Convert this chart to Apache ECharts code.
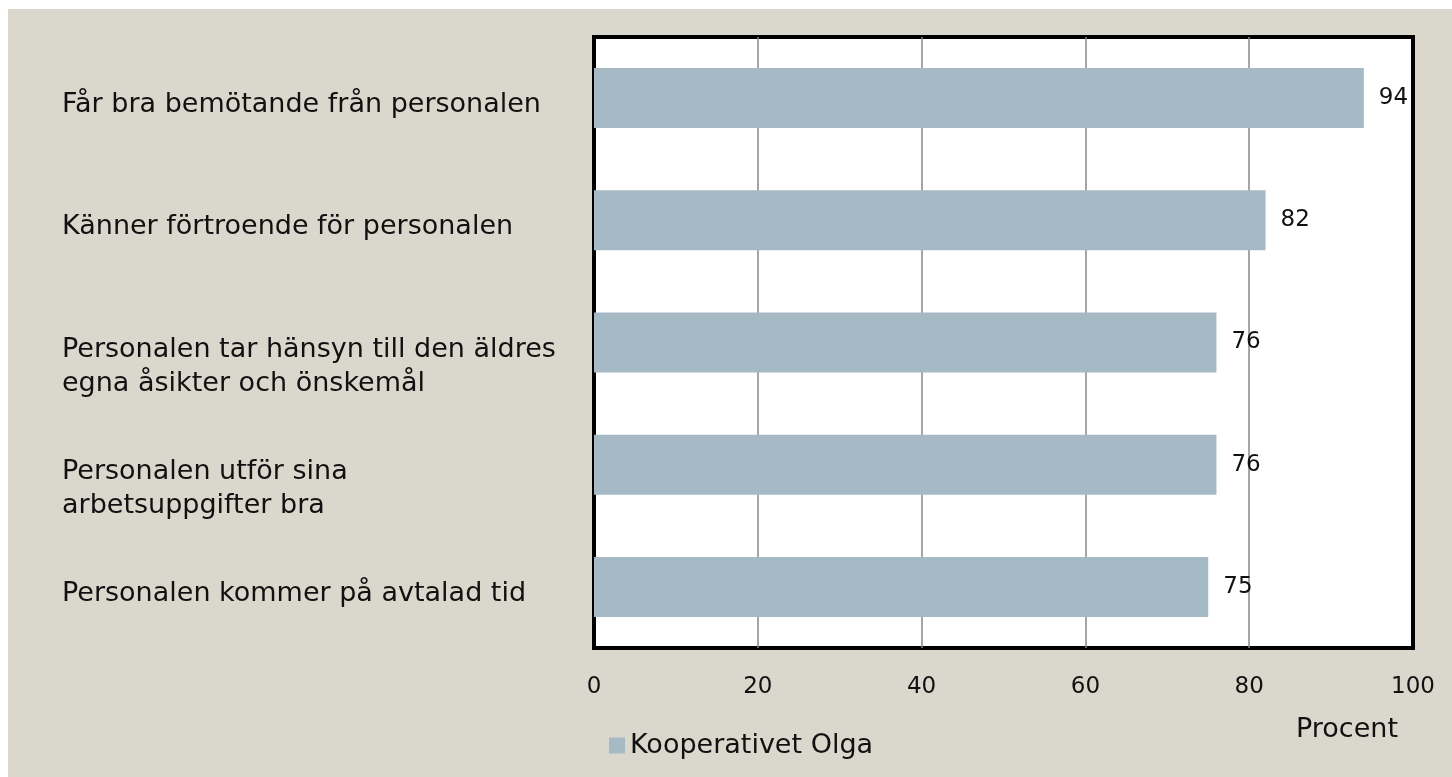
<!DOCTYPE html>
<html>
<head>
<meta charset="utf-8">
<script src="https://cdn.jsdelivr.net/npm/echarts@6/dist/echarts.min.js"></script>
<style>
html,body{margin:0;padding:0;background:#ffffff;}
#chart{position:absolute;left:8px;top:9px;width:1444px;height:768px;background:#dad8cc;}
</style>
</head>
<body>
<div id="chart"></div>
<script>
const categories = [
  "Får bra bemötande från personalen",
  "Känner förtroende för personalen",
  "Personalen tar hänsyn till den äldres\negna åsikter och önskemål",
  "Personalen utför sina\narbetsuppgifter bra",
  "Personalen kommer på avtalad tid"
];
const values = [94, 82, 76, 76, 75];
const seriesName = "Kooperativet Olga";
const axisTitle = "Procent";

const FONT = "DejaVu Sans";
const chart = echarts.init(document.getElementById('chart'), null, {renderer: 'canvas'});
chart.setOption({
  backgroundColor: '#dad8cc',
  animation: false,
  textStyle: {fontFamily: FONT, color: '#111'},
  grid: {left: 586, top: 28, right: 39, bottom: 129, show: true, borderColor: '#000', borderWidth: 4, backgroundColor: '#ffffff', containLabel: false},
  title: {text: axisTitle, left: 1283, top: 702, textStyle: {fontFamily: FONT, fontSize: 27, fontWeight: 'normal', color: '#111'}},
  legend: {left: 596, top: 718, icon: 'rect', itemWidth: 16, itemHeight: 16, itemGap: 6,
    textStyle: {fontFamily: FONT, fontSize: 27, color: '#111'}, data: [seriesName]},
  xAxis: {type: 'value', min: 0, max: 100, interval: 20,
    axisLine: {show: false}, axisTick: {show: false},
    splitLine: {show: true, showMinLine: false, showMaxLine: false, lineStyle: {color: '#888', width: 1.5}},
    axisLabel: {fontFamily: FONT, fontSize: 23, color: '#111', margin: 28}},
  yAxis: {type: 'category', data: categories, inverse: true,
    axisLine: {show: false}, axisTick: {show: false},
    axisLabel: {fontFamily: FONT, fontSize: 27, color: '#111', align: 'left', margin: 532,
      lineHeight: 34, verticalAlign: 'top', padding: [-10, 0, 0, 0]}},
  series: [{name: seriesName, type: 'bar', data: values, barWidth: 60,
    itemStyle: {color: '#a6bac6'},
    label: {show: true, position: 'right', distance: 15, fontFamily: FONT, fontSize: 23, color: '#111'}}]
});
</script>
</body>
</html>
